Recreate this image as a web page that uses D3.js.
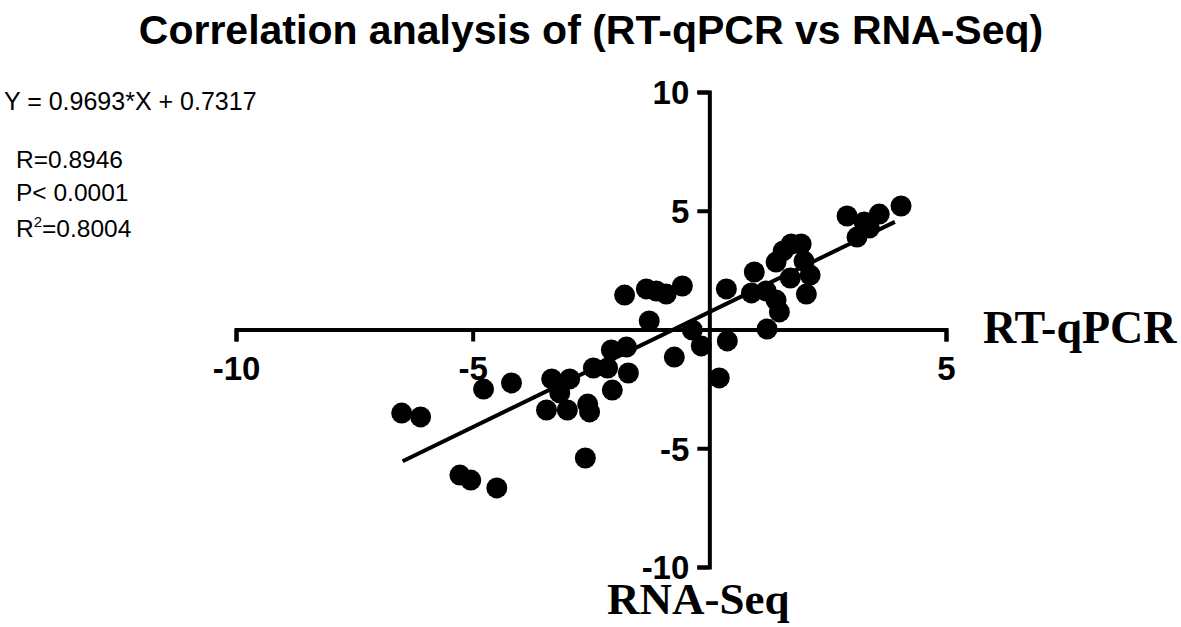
<!DOCTYPE html>
<html><head><meta charset="utf-8">
<script src="https://cdn.jsdelivr.net/npm/d3@7"></script>
<style>body{margin:0;background:#fff}svg{display:block}</style>
</head><body>
<svg id="c" width="1181" height="627"></svg>
<script>
const xTicks = [-10, -5, 5];
const yTicks = [10, 5, -5, -10];
const rtqpcr = [0.36,0.38,1.22,0.95,0.89,1.20,1.41,1.48,1.71,2.05,2.13,2.00,1.41,1.56,1.73,1.94,2.91,3.12,3.27,3.59,4.05,3.38,
  -1.79,-1.33,-1.12,-0.91,-0.57,-1.27,-0.36,-0.17,-0.74,0.21,-2.07,-1.75,-2.45,-2.15,-1.71,-2.05,-2.57,-2.53,-2.62,
  -3.33,-2.95,-3.16,-3.44,-3.00,-4.77,-4.18,-6.50,-6.10,-5.27,-5.04,-4.49];
const rnaseq = [1.71,-0.48,0.02,2.42,1.54,1.62,1.24,0.74,2.17,1.49,2.29,2.88,2.84,3.31,3.60,3.60,4.78,3.89,4.53,4.86,5.20,4.27,
  1.45,1.71,1.62,1.49,1.83,0.36,-0.02,-0.69,-1.16,-2.04,-0.86,-0.74,-1.62,-1.62,-1.83,-2.55,-3.14,-3.47,-5.41,
  -2.08,-2.08,-2.67,-3.39,-3.39,-2.51,-2.25,-3.52,-3.68,-6.13,-6.34,-6.67];
const slope = 0.9693, intercept = 0.7317;
const fitRange = [-6.48, 3.92];
const title = "Correlation analysis of (RT-qPCR vs RNA-Seq)";
const statLines = ["R=0.8946", "P< 0.0001"];

const svg = d3.select("#c");
const x = d3.scaleLinear().domain([-10, 5]).range([236, 946]);
const y = d3.scaleLinear().domain([-10, 10]).range([567, 92]);

svg.append("text").attr("x", 591).attr("y", 44).attr("text-anchor", "middle")
  .attr("font-family", "Liberation Sans, Arial, sans-serif").attr("font-weight", "bold")
  .attr("font-size", 41).text(title);

const fmt = d => String(d);
const xa = svg.append("g").attr("transform", `translate(0,${y(0)})`)
  .call(d3.axisBottom(x).tickValues(xTicks).tickSize(12).tickFormat(fmt));
const ya = svg.append("g").attr("transform", `translate(${x(0)},0)`)
  .call(d3.axisLeft(y).tickValues(yTicks).tickSize(12).tickFormat(fmt));
[xa, ya].forEach(g => {
  g.select(".domain").attr("stroke", "#000").attr("stroke-width", 4);
  g.selectAll(".tick line").attr("stroke", "#000").attr("stroke-width", 4);
  g.selectAll(".tick text").attr("fill", "#000")
    .attr("font-family", "Liberation Sans, Arial, sans-serif").attr("font-weight", "bold").attr("font-size", 33);
});
xa.selectAll(".tick text").attr("dy", "0.71em").attr("y", 27);
ya.selectAll(".tick text").attr("x", -20).attr("dy", "0.36em");

svg.append("line")
  .attr("x1", x(fitRange[0])).attr("y1", y(slope * fitRange[0] + intercept))
  .attr("x2", x(fitRange[1])).attr("y2", y(slope * fitRange[1] + intercept))
  .attr("stroke", "#000").attr("stroke-width", 4);

svg.append("g").selectAll("circle").data(rtqpcr.map((v, i) => [v, rnaseq[i]])).join("circle")
  .attr("cx", d => x(d[0])).attr("cy", d => y(d[1])).attr("r", 10.5).attr("fill", "#000");

svg.append("text").attr("x", 983).attr("y", 343)
  .attr("font-family", "Liberation Serif, Times New Roman, serif").attr("font-weight", "bold")
  .attr("font-size", 46).text("RT-qPCR");
svg.append("text").attr("x", 607).attr("y", 614)
  .attr("font-family", "Liberation Serif, Times New Roman, serif").attr("font-weight", "bold")
  .attr("font-size", 45).text("RNA-Seq");

const af = "Liberation Sans, Arial, sans-serif";
svg.append("text").attr("x", 4).attr("y", 110).attr("font-family", af).attr("font-size", 25)
  .text(`Y = ${slope}*X + ${intercept}`);
svg.selectAll("text.st").data(statLines).join("text").attr("class", "st")
  .attr("x", 16).attr("y", (d, i) => 168 + i * 33).attr("font-family", af).attr("font-size", 24.5).text(d => d);
const r2 = svg.append("text").attr("x", 16).attr("y", 237).attr("font-family", af).attr("font-size", 24.5);
r2.append("tspan").text("R");
r2.append("tspan").attr("font-size", 15).attr("dy", -10).text("2");
r2.append("tspan").attr("dy", 10).text("=0.8004");
</script>
</body></html>
